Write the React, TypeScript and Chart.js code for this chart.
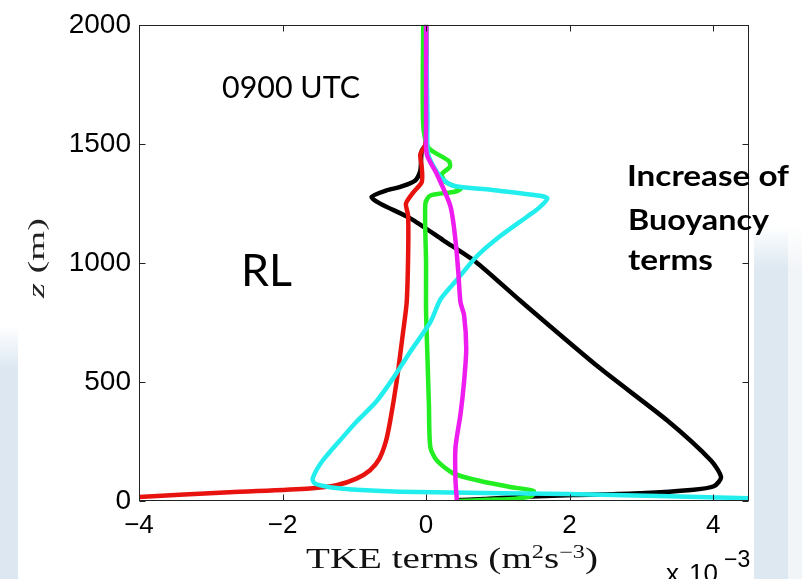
import { useEffect, useRef } from 'react';
import { Chart, registerables } from 'chart.js';

Chart.register(...registerables);

// axis ticks
const xTicks = [-4, -2, 0, 2, 4];
const xTickLabels = ['−4', '−2', '0', '2', '4'];
const yTicks = [0, 500, 1000, 1500, 2000];
const yTickLabels = ['0', '500', '1000', '1500', '2000'];

// series: TKE terms (x 1e-3 m2 s-3) against height z (m)
const blackZ = [0, 4, 8, 17, 25, 33, 46, 62, 100, 170, 336, 556, 842, 1000, 1095, 1187, 1249, 1277, 1305, 1319, 1346, 1387, 1470, 1500, 2000];
const blackX = [0.41, 0.48, 0.8, 1.27, 2.06, 2.99, 3.69, 4.01, 4.11, 3.97, 3.37, 2.43, 1.31, 0.71, 0.24, -0.22, -0.64, -0.76, -0.55, -0.36, -0.15, -0.08, -0.06, 0.0, 0.0];

const redZ = [14, 17, 37, 53, 66, 94, 129, 178, 250, 336, 502, 710, 834, 1029, 1199, 1249, 1295, 1340, 1402, 1456, 1498, 2000];
const redX = [-4.07, -4.0, -2.74, -1.62, -1.25, -0.97, -0.78, -0.65, -0.56, -0.5, -0.41, -0.32, -0.27, -0.25, -0.25, -0.28, -0.18, -0.06, -0.06, -0.08, -0.01, 0.0];

const greenZ = [0, 5, 10, 22, 42, 59, 87, 116, 170, 225, 400, 600, 800, 1000, 1249, 1283, 1299, 1311, 1340, 1373, 1402, 1427, 1485, 1581, 2000];
const greenX = [0.45, 0.85, 1.25, 1.48, 1.5, 1.17, 0.71, 0.38, 0.15, 0.06, 0.04, 0.02, 0.0, 0.0, -0.01, 0.06, 0.4, 0.48, 0.27, 0.22, 0.33, 0.32, 0.03, -0.04, -0.04];

const cyanZ = [8, 12, 29, 39, 46, 58, 73, 95, 170, 282, 336, 419, 515, 627, 751, 846, 929, 1029, 1112, 1195, 1230, 1270, 1282, 1307, 1324, 1361, 1456, 1610, 2000];
const cyanX = [4.7, 4.5, 1.97, -0.36, -0.9, -1.34, -1.55, -1.58, -1.44, -1.12, -0.96, -0.69, -0.46, -0.22, 0.06, 0.2, 0.43, 0.71, 1.03, 1.41, 1.57, 1.69, 1.59, 0.9, 0.38, 0.2, 0.03, 0.02, 0.0];

const magentaZ = [0, 87, 224, 365, 502, 639, 780, 834, 958, 1095, 1237, 1373, 1456, 1581, 2000];
const magentaX = [0.43, 0.41, 0.41, 0.48, 0.53, 0.56, 0.53, 0.48, 0.45, 0.41, 0.34, 0.15, 0.01, 0.0, 0.0];

const toPoints = (xs: number[], zs: number[]) => xs.map((x, i) => ({ x, y: zs[i] }));

const framePlugin = {
  id: 'matlabFrame',
  afterDatasetsDraw(chart: any) {
    const { ctx, chartArea, scales } = chart;
    const l = Math.round(chartArea.left) + 0.5;
    const r = Math.round(chartArea.right) - 0.5;
    const t = Math.round(chartArea.top) + 0.5;
    const b = Math.round(chartArea.bottom) - 0.5;
    ctx.save();
    ctx.strokeStyle = '#222';
    ctx.lineWidth = 1;
    ctx.strokeRect(l, t, r - l, b - t);
    const len = 6;
    ctx.beginPath();
    xTicks.forEach((v) => {
      const px = Math.round(scales.x.getPixelForValue(v)) + 0.5;
      ctx.moveTo(px, b);
      ctx.lineTo(px, b - len);
      ctx.moveTo(px, t);
      ctx.lineTo(px, t + len);
    });
    yTicks.forEach((v) => {
      const py = Math.round(scales.y.getPixelForValue(v)) + 0.5;
      ctx.moveTo(l, py);
      ctx.lineTo(l + len, py);
      ctx.moveTo(r, py);
      ctx.lineTo(r - len, py);
    });
    ctx.stroke();
    ctx.restore();
  },
};

export default function App() {
  const ref = useRef<HTMLCanvasElement | null>(null);

  useEffect(() => {
    if (!ref.current) return;
    const line = (xs: number[], zs: number[], color: string, order: number) => ({
      data: toPoints(xs, zs),
      showLine: true,
      borderColor: color,
      backgroundColor: color,
      borderWidth: 4.5,
      pointRadius: 0,
      tension: 0.25,
      order,
      clip: 0,
    });
    const chart = new Chart(ref.current, {
      type: 'scatter',
      data: {
        datasets: [
          line(magentaX, magentaZ, '#ee1cee', 0),
          line(cyanX, cyanZ, '#22eeee', 1),
          line(greenX, greenZ, '#22ee22', 2),
          line(redX, redZ, '#e8120f', 3),
          line(blackX, blackZ, '#000000', 4),
        ] as any,
      },
      options: {
        animation: false,
        responsive: false,
        maintainAspectRatio: false,
        devicePixelRatio: 1,
        layout: { padding: { left: 0, top: 19, right: 53, bottom: 0 } },
        plugins: { legend: { display: false }, tooltip: { enabled: false } },
        scales: {
          x: {
            type: 'linear',
            min: -4,
            max: 4.5,
            grid: { display: false, drawTicks: false },
            border: { display: false },
            afterBuildTicks: (s: any) => {
              s.ticks = xTicks.map((v) => ({ value: v }));
            },
            afterFit: (s: any) => {
              s.height = 78;
            },
            ticks: {
              padding: 9,
              color: '#000',
              maxRotation: 0,
              font: { family: 'Liberation Sans, Arial, sans-serif', size: 26 },
              callback: (v: any) => xTickLabels[xTicks.indexOf(Number(v))] ?? '',
            },
          },
          y: {
            type: 'linear',
            min: 0,
            max: 2000,
            grid: { display: false, drawTicks: false },
            border: { display: false },
            afterBuildTicks: (s: any) => {
              s.ticks = yTicks.map((v) => ({ value: v }));
            },
            afterFit: (s: any) => {
              s.width = 139;
            },
            ticks: {
              padding: 8,
              color: '#000',
              font: { family: 'Liberation Sans, Arial, sans-serif', size: 28 },
              callback: (v: any) => yTickLabels[yTicks.indexOf(Number(v))] ?? '',
            },
          },
        },
      },
      plugins: [framePlugin],
    });
    return () => chart.destroy();
  }, []);

  return (
    <div style={{ position: 'absolute', left: 0, top: 0, width: 802, height: 579, background: '#fff', overflow: 'hidden' }}>
      <div style={{ position: 'absolute', left: 0, top: 325, width: 18, height: 254, background: 'linear-gradient(to bottom, rgba(220,231,241,0) 0px, #dce7f1 45px)' }} />
      <div style={{ position: 'absolute', left: 754, top: 225, width: 34, height: 354, background: 'linear-gradient(to bottom, rgba(220,231,241,0) 0px, #dde8f1 45px)' }} />
      <div style={{ position: 'absolute', left: 788, top: 225, width: 14, height: 354, background: 'linear-gradient(to bottom, rgba(240,244,248,0) 0px, #f2f5f8 45px)' }} />
      <canvas ref={ref} width={802} height={579} style={{ position: 'absolute', left: 0, top: 0 }} />
      <svg width={802} height={579} style={{ position: 'absolute', left: 0, top: 0, pointerEvents: 'none' }}>
        <text x={222} y={98} fontFamily="Lato, sans-serif" fontSize={30} textLength={138} lengthAdjust="spacingAndGlyphs" fill="#000">0900 UTC</text>
        <text x={241} y={286} fontFamily="Lato, sans-serif" fontSize={45} textLength={51} lengthAdjust="spacingAndGlyphs" fill="#000">RL</text>
        <text x={627} y={186} fontFamily="Lato, sans-serif" fontWeight="bold" fontSize={29} textLength={162} lengthAdjust="spacingAndGlyphs" fill="#000">Increase of</text>
        <text x={628} y={230} fontFamily="Lato, sans-serif" fontWeight="bold" fontSize={29} textLength={141} lengthAdjust="spacingAndGlyphs" fill="#000">Buoyancy</text>
        <text x={628} y={270} fontFamily="Lato, sans-serif" fontWeight="bold" fontSize={29} textLength={85} lengthAdjust="spacingAndGlyphs" fill="#000">terms</text>
        <text x={306} y={568} fontFamily="Liberation Serif, Times New Roman, serif" fontSize={29} textLength={292} lengthAdjust="spacingAndGlyphs" fill="#111">
          TKE terms (m<tspan fontSize={18} dy={-10}>2</tspan><tspan dy={10}>s</tspan><tspan fontSize={18} dy={-10}>−3</tspan><tspan dy={10}>)</tspan>
        </text>
        <text x={666} y={582} fontFamily="Liberation Sans, Arial, sans-serif" fontSize={26} fill="#000">
          x <tspan x={689}>10</tspan><tspan x={724} y={567} fontSize={23}>−3</tspan>
        </text>
        <text transform="translate(44,298) rotate(-90)" fontFamily="Liberation Serif, Times New Roman, serif" fontSize={24} textLength={80} lengthAdjust="spacingAndGlyphs" fill="#222">
          <tspan fontStyle="italic">z</tspan> (m)
        </text>
      </svg>
    </div>
  );
}
